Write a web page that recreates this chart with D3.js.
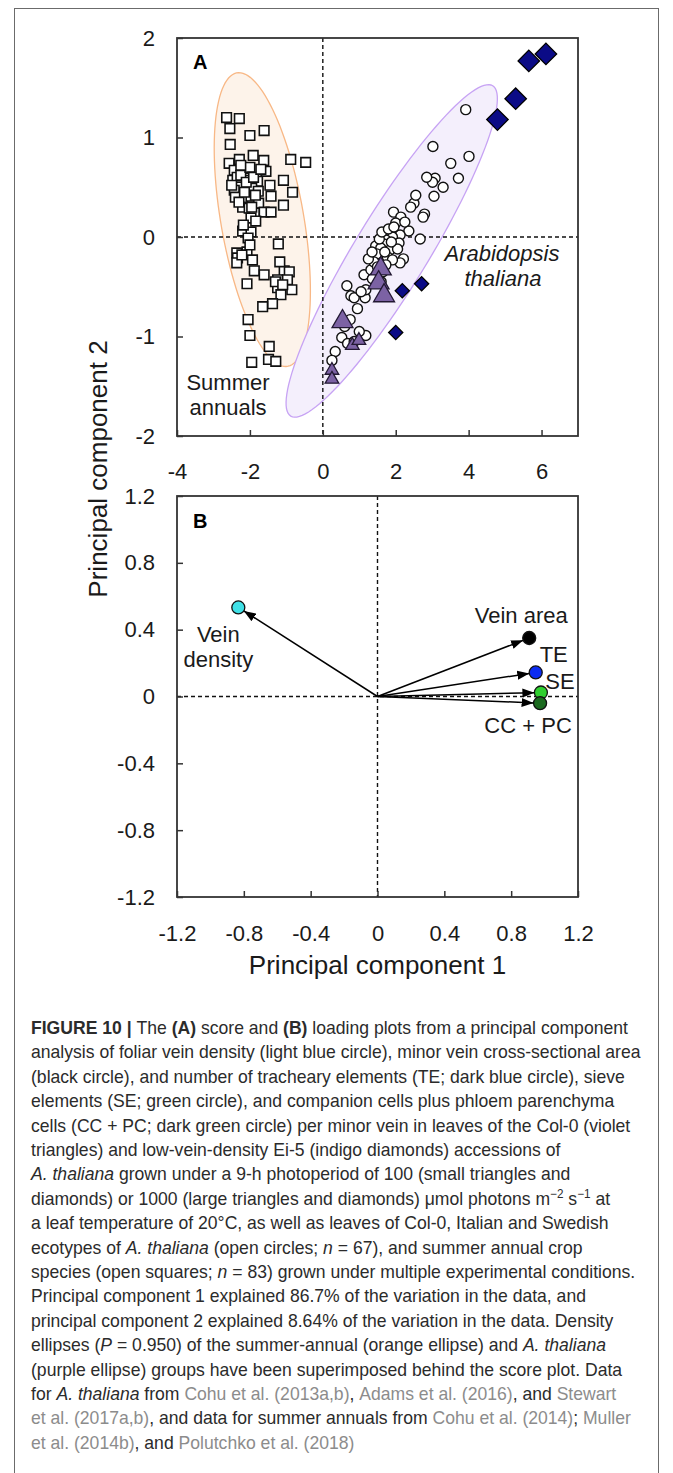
<!DOCTYPE html>
<html>
<head>
<meta charset="utf-8">
<script src="https://cdn.jsdelivr.net/npm/d3@7"></script>
<style>
body { margin: 0; background: #fff; }
svg { display: block; font-family: "Liberation Sans", Arial, Helvetica, sans-serif; }
</style>
</head>
<body>
<div id="chart"></div>
<script>
// ---- score plot (PC1, PC2) ----
var summerAnnuals = [
  [-2.64,1.20],[-2.29,1.19],[-2.55,1.09],[-1.61,1.07],[-2.00,1.02],[-2.54,0.93],[-0.88,0.78],[-0.47,0.75],
  [-1.91,0.82],[-1.62,0.77],[-2.57,0.74],[-2.29,0.78],[-2.14,0.69],[-2.43,0.67],[-1.56,0.66],[-1.08,0.57],
  [-2.47,0.57],[-2.06,0.57],[-1.79,0.56],[-2.29,0.52],[-1.45,0.52],[-2.43,0.47],[-1.95,0.49],[-0.83,0.45],
  [-1.77,0.46],[-1.42,0.41],[-2.20,0.39],[-1.97,0.41],[-1.08,0.32],[-1.76,0.34],[-2.20,0.30],[-2.02,0.29],
  [-1.61,0.25],[-1.42,0.25],[-1.88,0.24],[-1.97,0.19],[-1.84,0.16],[-2.20,0.06],[-1.97,0.05],[-2.05,-0.01],
  [-1.22,-0.07],[-2.36,-0.16],[-2.08,-0.15],[-2.34,-0.21],[-1.93,-0.23],[-1.88,-0.34],[-1.61,-0.38],[-2.08,-0.47],
  [-1.06,-0.34],[-0.92,-0.35],[-1.24,-0.43],[-0.97,-0.43],[-0.85,-0.53],[-1.24,-0.51],[-1.15,-0.58],[-1.38,-0.67],
  [-1.65,-0.70],[-2.05,-0.83],[-2.00,-0.99],[-1.47,-1.10],[-1.49,-1.23],[-1.29,-1.25],[-1.95,-1.26],[-2.36,-0.26],
  [-2.22,-0.18],[-2.00,-0.08],[-1.18,-0.25],[-2.35,0.60],[-2.25,0.62],[-2.10,0.55],[-2.40,0.40],[-2.30,0.35],
  [-2.15,0.45],[-1.85,0.42],[-2.00,0.70],[-2.50,0.52],[-1.90,0.60],[-2.18,0.12],[-1.30,-0.45],[-1.10,-0.48],
  [-1.70,0.68],[-2.25,0.72],[-1.95,0.30]
];
var thalianaOpen = [
  [3.92,1.28],[3.02,0.91],[4.01,0.81],[3.51,0.74],[3.72,0.59],[3.08,0.59],[3.01,0.55],[3.30,0.50],
  [3.05,0.41],[2.50,0.34],[2.41,0.30],[2.79,0.23],[2.75,0.20],[1.94,0.25],[2.14,0.20],[2.00,0.14],
  [2.36,0.06],[2.67,-0.02],[2.12,0.02],[1.91,0.00],[1.73,-0.03],[2.09,-0.06],[1.45,-0.09],[1.68,-0.07],
  [1.84,-0.13],[1.59,-0.11],[1.48,-0.17],[1.77,-0.20],[2.21,-0.22],[2.12,-0.26],[1.13,-0.38],[1.32,-0.33],
  [1.91,-0.23],[1.73,-0.28],[0.66,-0.49],[0.77,-0.59],[0.86,-0.61],[1.16,-0.61],[1.18,-0.53],[0.75,-0.83],
  [0.52,-1.01],[1.18,-0.99],[0.68,-1.07],[0.86,-1.05],[0.34,-1.15],[0.25,-1.24],[1.36,-0.42],[1.55,-0.02],
  [1.62,0.05],[1.80,0.08],[1.95,0.10],[2.05,-0.12],[1.40,-0.25],[1.50,-0.30],[1.65,-0.35],[1.25,-0.22],
  [1.70,-0.15],[1.88,-0.05],[2.25,0.15],[2.55,0.42],[2.85,0.60],[1.35,-0.15],[1.60,-0.45],[1.05,-0.55],
  [0.95,-0.72],[0.60,-0.90],[1.00,-0.95]
];
var col0Large = [[1.59,-0.32],[1.53,-0.46],[1.68,-0.59],[0.54,-0.85]];
var col0Small = [[0.81,-1.09],[0.99,-1.04],[0.25,-1.34],[0.25,-1.43]];
var ei5Large = [[4.79,1.18],[5.29,1.39],[5.65,1.77],[6.12,1.84]];
var ei5Small = [[2.18,-0.54],[2.71,-0.47],[2.00,-0.96]];

// density ellipses: centre and two half-axis vectors in PC units
var orangeEllipse = { c: [-1.66, 0.175], a: [-0.59, 1.475], b: [1.18, -0.064] };
var purpleEllipse = { c: [1.89, -0.14], a: [2.77, 1.66], b: [0.853, -0.192] };

var scoreXTicks = [-4, -2, 0, 2, 4, 6];
var scoreYTicks = [-2, -1, 0, 1, 2];

// ---- loading plot ----
var loadNames = ["Vein density", "Vein area", "TE", "SE", "CC + PC"];
var loadPC1 = [-0.833, 0.908, 0.947, 0.978, 0.973];
var loadPC2 = [0.533, 0.35, 0.144, 0.024, -0.04];
var loadColors = ["#3fe0e6", "#000000", "#0c2cf2", "#2fcf2f", "#1b6a1f"];
var loadTicks = [-1.2, -0.8, -0.4, 0, 0.4, 0.8, 1.2];

// caption lines: [text, style]
var caption = [
  [["FIGURE 10 | ","b"],["The ",""],["(A)","b"],[" score and ",""],["(B)","b"],[" loading plots from a principal component",""]],
  [["analysis of foliar vein density (light blue circle), minor vein cross-sectional area",""]],
  [["(black circle), and number of tracheary elements (TE; dark blue circle), sieve",""]],
  [["elements (SE; green circle), and companion cells plus phloem parenchyma",""]],
  [["cells (CC + PC; dark green circle) per minor vein in leaves of the Col-0 (violet",""]],
  [["triangles) and low-vein-density Ei-5 (indigo diamonds) accessions of",""]],
  [["A. thaliana","i"],[" grown under a 9-h photoperiod of 100 (small triangles and",""]],
  [["diamonds) or 1000 (large triangles and diamonds) \u03bcmol photons m",""],["\u22122","sup"],[" s",""],["\u22121","sup"],[" at",""]],
  [["a leaf temperature of 20\u00b0C, as well as leaves of Col-0, Italian and Swedish",""]],
  [["ecotypes of ",""],["A. thaliana","i"],[" (open circles; ",""],["n","i"],[" = 67), and summer annual crop",""]],
  [["species (open squares; ",""],["n","i"],[" = 83) grown under multiple experimental conditions.",""]],
  [["Principal component 1 explained 86.7% of the variation in the data, and",""]],
  [["principal component 2 explained 8.64% of the variation in the data. Density",""]],
  [["ellipses (",""],["P","i"],[" = 0.950) of the summer-annual (orange ellipse) and ",""],["A. thaliana","i"]],
  [["(purple ellipse) groups have been superimposed behind the score plot. Data",""]],
  [["for ",""],["A. thaliana","i"],[" from ",""],["Cohu et al. (2013a,b)","g"],[", ",""],["Adams et al. (2016)","g"],[", and ",""],["Stewart","g"]],
  [["et al. (2017a,b)","g"],[", and data for summer annuals from ",""],["Cohu et al. (2014)","g"],["; ",""],["Muller","g"]],
  [["et al. (2014b)","g"],[", and ",""],["Polutchko et al. (2018)","g"]]
];

var width = 673, height = 1473;

var svg = d3.select("#chart").append("svg")
    .attr("width", width)
    .attr("height", height);

// outer border of the figure
svg.append("rect")
    .attr("x", 14.5).attr("y", 8.5)
    .attr("width", 644).attr("height", 1480)
    .style("fill", "none").style("stroke", "#6b6b6b").style("stroke-width", 1);

var xA = d3.scaleLinear().domain([-4, 7]).range([177, 578]);
var yA = d3.scaleLinear().domain([-2, 2]).range([436, 38]);
var xB = d3.scaleLinear().domain([-1.2, 1.2]).range([177, 578]);
var yB = d3.scaleLinear().domain([-1.2, 1.2]).range([897, 496]);

function axes(x, y, xt, yt, pad) {
  var g = svg.append("g");
  g.append("g")
    .attr("transform", `translate(0,${y.range()[0]})`)
    .call(d3.axisBottom(x).tickValues(xt).tickSizeInner(-6).tickSizeOuter(0)
      .tickPadding(pad).tickFormat(d => String(d)))
    .call(a => a.select(".domain").remove());
  g.append("g")
    .attr("transform", `translate(${x.range()[0]},0)`)
    .call(d3.axisLeft(y).tickValues(yt).tickSizeInner(-6).tickSizeOuter(0)
      .tickPadding(22).tickFormat(d => String(d)))
    .call(a => a.select(".domain").remove());
  g.selectAll("text").attr("font-size", 22).attr("fill", "#1a1a1a");
  g.selectAll("line").attr("stroke", "#333").attr("stroke-width", 1.5);
  g.selectAll("g").attr("font-family", null).attr("font-size", null);
  return g;
}

function zeroLines(x, y) {
  var g = svg.append("g")
    .style("stroke", "#111").style("stroke-width", 1.4).style("stroke-dasharray", "4,3");
  g.append("line").attr("x1", x(0)).attr("x2", x(0)).attr("y1", y.range()[1]).attr("y2", y.range()[0]);
  g.append("line").attr("x1", x.range()[0]).attr("x2", x.range()[1]).attr("y1", y(0)).attr("y2", y(0));
}

function frame(x, y) {
  svg.append("rect")
    .attr("x", x.range()[0]).attr("y", y.range()[1])
    .attr("width", x.range()[1] - x.range()[0])
    .attr("height", y.range()[0] - y.range()[1])
    .style("fill", "none").style("stroke", "#333").style("stroke-width", 1.8);
}

// ---------- panel A ----------
var ellipseLine = d3.line().curve(d3.curveLinearClosed);
function ellipsePath(e) {
  var pts = d3.range(0, 2 * Math.PI, Math.PI / 60).map(function(t) {
    var c = Math.cos(t), s = Math.sin(t);
    return [xA(e.c[0] + e.a[0] * c + e.b[0] * s), yA(e.c[1] + e.a[1] * c + e.b[1] * s)];
  });
  return ellipseLine(pts);
}
svg.append("path").attr("d", ellipsePath(orangeEllipse))
    .style("fill", "#fdf3ea").style("stroke", "#f8b886").style("stroke-width", 1.3);
svg.append("path").attr("d", ellipsePath(purpleEllipse))
    .style("fill", "#f4effc").style("stroke", "#c7a3f4").style("stroke-width", 1.3);

zeroLines(xA, yA);

var sq = d3.symbol().type(d3.symbolSquare).size(92);
svg.append("g").selectAll("path")
    .data(summerAnnuals).enter().append("path")
    .attr("d", sq)
    .attr("transform", d => `translate(${xA(d[0])},${yA(d[1])})`)
    .style("fill", "#fff").style("stroke", "#111").style("stroke-width", 1.6);

svg.append("g").selectAll("circle")
    .data(thalianaOpen).enter().append("circle")
    .attr("cx", d => xA(d[0])).attr("cy", d => yA(d[1])).attr("r", 5)
    .style("fill", "#fff").style("stroke", "#111").style("stroke-width", 1.4);

function triangles(data, size) {
  svg.append("g").selectAll("path")
    .data(data).enter().append("path")
    .attr("d", d3.symbol().type(d3.symbolTriangle).size(size))
    .attr("transform", d => `translate(${xA(d[0])},${yA(d[1])})`)
    .style("fill", "#7c62a4").style("stroke", "#221833").style("stroke-width", 1.3);
}
triangles(col0Large, 190);
triangles(col0Small, 80);

function diamonds(data, size) {
  svg.append("g").selectAll("path")
    .data(data).enter().append("path")
    .attr("d", d3.symbol().type(d3.symbolSquare).size(size))
    .attr("transform", d => `translate(${xA(d[0])},${yA(d[1])}) rotate(45)`)
    .style("fill", "#0b0b86").style("stroke", "#000").style("stroke-width", 1.3);
}
diamonds(ei5Large, 230);
diamonds(ei5Small, 100);

frame(xA, yA);
axes(xA, yA, scoreXTicks, scoreYTicks, 27);

svg.append("text").attr("x", 193).attr("y", 69)
    .attr("font-size", 20).attr("font-weight", "bold").text("A");

var noteA = svg.append("g").attr("font-size", 22).attr("fill", "#1a1a1a").attr("text-anchor", "middle");
noteA.append("text").attr("x", 228).attr("y", 390).text("Summer");
noteA.append("text").attr("x", 228).attr("y", 415).text("annuals");
noteA.append("text").attr("x", 502).attr("y", 261).attr("font-style", "italic").text("Arabidopsis");
noteA.append("text").attr("x", 503).attr("y", 286).attr("font-style", "italic").text("thaliana");

// ---------- panel B ----------
zeroLines(xB, yB);

var loadings = loadNames.map((n, i) => ({ name: n, x: loadPC1[i], y: loadPC2[i], color: loadColors[i] }));
var rPt = 6.5;

svg.append("g").selectAll("circle")
    .data(loadings).enter().append("circle")
    .attr("cx", d => xB(d.x)).attr("cy", d => yB(d.y)).attr("r", rPt)
    .style("fill", d => d.color).style("stroke", "#111").style("stroke-width", 1.3);

svg.append("defs").append("marker")
    .attr("id", "head").attr("markerUnits", "userSpaceOnUse")
    .attr("viewBox", "0 -5 12 10").attr("refX", 12).attr("refY", 0)
    .attr("markerWidth", 12).attr("markerHeight", 10).attr("orient", "auto")
  .append("path").attr("d", "M0,-4.5L12,0L0,4.5Z").style("fill", "#000");

svg.append("g").selectAll("line")
    .data(loadings).enter().append("line")
    .each(function(d) {
      var x0 = xB(0), y0 = yB(0), x1 = xB(d.x), y1 = yB(d.y);
      var len = Math.hypot(x1 - x0, y1 - y0);
      var k = (len - rPt) / len;
      d3.select(this)
        .attr("x1", x0).attr("y1", y0)
        .attr("x2", x0 + (x1 - x0) * k).attr("y2", y0 + (y1 - y0) * k);
    })
    .style("stroke", "#000").style("stroke-width", 1.5)
    .attr("marker-end", "url(#head)");

// label offsets from each loading point (px)
var labelOffsets = [[-20, 35], [-8, -15], [18, -10], [19, -3], [-12, 30]];
var labB = svg.append("g").attr("font-size", 22).attr("fill", "#1a1a1a").attr("text-anchor", "middle");
loadings.forEach(function(d, i) {
  var o = labelOffsets[i];
  var px = xB(d.x) + o[0], py = yB(d.y) + o[1];
  if (d.name === "Vein density") {
    labB.append("text").attr("x", px).attr("y", py).text("Vein");
    labB.append("text").attr("x", px).attr("y", py + 25).text("density");
  } else {
    labB.append("text").attr("x", px).attr("y", py).text(d.name);
  }
});

frame(xB, yB);
axes(xB, yB, loadTicks, loadTicks, 28);

svg.append("text").attr("x", 193).attr("y", 528)
    .attr("font-size", 20).attr("font-weight", "bold").text("B");

svg.append("text")
    .attr("transform", "translate(107,469) rotate(-90)")
    .attr("text-anchor", "middle").attr("font-size", 26).attr("fill", "#1a1a1a")
    .text("Principal component 2");
svg.append("text")
    .attr("x", 377.5).attr("y", 974)
    .attr("text-anchor", "middle").attr("font-size", 26).attr("fill", "#1a1a1a")
    .text("Principal component 1");

// ---------- caption ----------
var cap = svg.append("g").attr("font-size", 18).attr("fill", "#2b2b2b");
var capLines = cap.selectAll("text").data(caption).enter().append("text")
    .attr("x", 0).attr("y", (d, i) => 1034 + i * 24.4);
capLines.each(function(segs) {
  var t = d3.select(this);
  segs.forEach(function(s) {
    var ts = t.append("tspan").text(s[0]);
    if (s[1] === "b") ts.attr("font-weight", "bold");
    if (s[1] === "i") ts.attr("font-style", "italic");
    if (s[1] === "g") ts.attr("fill", "#8c8c8c");
    if (s[1] === "sup") ts.attr("font-size", 12).attr("baseline-shift", "super");
  });
});
// the second line is the widest one in the reference (ends near x = 641)
var widest = capLines.filter((d, i) => i === 1).node().getComputedTextLength();
cap.attr("transform", `translate(31,0) scale(${610 / widest},1)`);
</script>
</body>
</html>
